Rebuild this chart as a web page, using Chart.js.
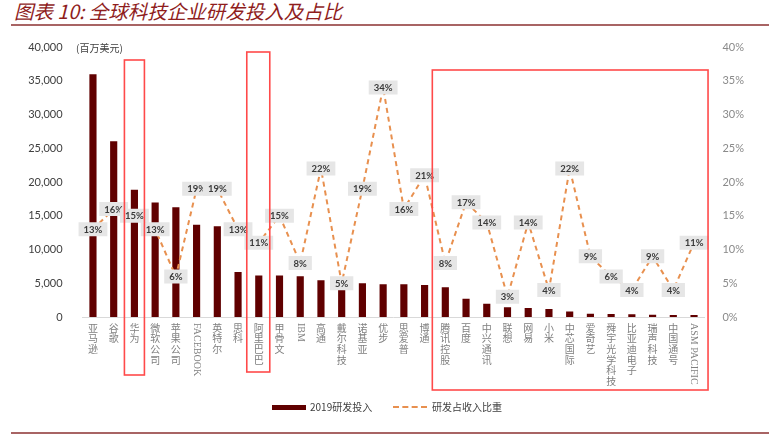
<!DOCTYPE html>
<html>
<head>
<meta charset="utf-8">
<script src="https://cdn.jsdelivr.net/npm/chart.js@4.4.0/dist/chart.umd.min.js"></script>
<style>
  body { margin: 0; background: #fff; font-family: "Noto Sans CJK SC", sans-serif; }
  #wrap { position: relative; width: 769px; height: 436px; overflow: hidden; }
  #title { position: absolute; left: 14px; top: -2px; font-size: 19.5px; font-style: italic; color: #8f1d1d; line-height: 26px; white-space: nowrap; }
  .rule { position: absolute; left: 11px; right: 0; height: 2px; background: #a86464; }
  canvas { position: absolute; left: 0; top: 0; }
  #unit { position: absolute; left: 76px; top: 40px; font-size: 10px; color: #404040; }
  .leg { position: absolute; font-size: 10px; color: #404040; line-height: 14px; }
</style>
</head>
<body>
<div id="wrap">
  <div id="title">图表 10: 全球科技企业研发投入及占比</div>
  <div class="rule" style="top:24px"></div>
  <canvas id="chart" width="769" height="436"></canvas>
  <div id="unit">(百万美元)</div>
  <div class="leg" style="left:272px;top:405px;width:34px;height:5px;background:#600000"></div>
  <div class="leg" style="left:310px;top:400px">2019研发投入</div>
  <div class="leg" style="left:393px;top:406px;width:34px;height:0;border-top:2px dashed #e8904f"></div>
  <div class="leg" style="left:432px;top:400px">研发占收入比重</div>
  <div class="rule" style="top:432px"></div>
</div>
<script>
// categories
const companies = [
  "亚马逊", "谷歌", "华为", "微软公司", "苹果公司", "FACEBOOK", "英特尔", "思科",
  "阿里巴巴", "甲骨文", "IBM", "高通", "戴尔科技", "诺基亚", "优步", "思爱普",
  "博通", "腾讯控股", "百度", "中兴通讯", "联想", "网易", "小米", "中芯国际",
  "爱奇艺", "舜宇光学科技", "比亚迪电子", "瑞声科技", "中国通号", "ASM PACIFIC"
];

// 2019 R&D spend, million USD
const rdSpend = [
  35900, 26000, 18800, 16900, 16200, 13600, 13400, 6600,
  6100, 6100, 6000, 5400, 4300, 4950, 4800, 4800,
  4700, 4350, 2650, 1900, 1400, 1300, 1150, 750,
  450, 400, 350, 300, 250, 250
];

// R&D as % of revenue
const rdRatio = [
  13, 16, 15, 13, 6, 19, 19, 13,
  11, 15, 8, 22, 5, 19, 34, 16,
  21, 8, 17, 14, 3, 14, 4, 22,
  9, 6, 4, 9, 4, 11
];

const spendTicks = { min: 0, max: 40000, step: 5000 };
const ratioTicks = { min: 0, max: 40, step: 5 };

// companies that get a red frame round them
const frames = [
  { from: 2, to: 2, padL: 10, padR: 10, top: 60, bottom: 375 },
  { from: 8, to: 8, padL: 12, padR: 11, top: 52, bottom: 372 },
  { from: 17, to: 29, padL: 13, padR: 14, top: 70, bottom: 390 }
];

const barColor = "#600000";
const lineColor = "#e8904f";

// percent labels in grey boxes on the line
const pointLabels = {
  id: "pointLabels",
  afterDatasetsDraw(chart) {
    const ctx = chart.ctx;
    const meta = chart.getDatasetMeta(0);
    ctx.save();
    ctx.font = "bold 9.5px Lato, sans-serif";
    ctx.textAlign = "center";
    ctx.textBaseline = "middle";
    meta.data.forEach((pt, i) => {
      const txt = rdRatio[i] + "%";
      const w = ctx.measureText(txt).width + 10;
      const h = 14;
      ctx.fillStyle = "#e6e6e6";
      ctx.fillRect(pt.x - w / 2, pt.y - h / 2, w, h);
      ctx.fillStyle = "#3a3a3a";
      ctx.fillText(txt, pt.x, pt.y + 0.5);
    });
    ctx.restore();
  }
};

// vertical category labels, CJK stacked, latin rotated
const xLabels = {
  id: "xLabels",
  afterDraw(chart) {
    const ctx = chart.ctx;
    const x = chart.scales.x;
    const top = chart.chartArea.bottom + 6;
    ctx.save();
    ctx.fillStyle = "#7f7f7f";
    companies.forEach((name, i) => {
      const px = x.getPixelForValue(i);
      if (/[A-Za-z]/.test(name)) {
        ctx.save();
        ctx.font = "10px 'Liberation Serif', serif";
        ctx.translate(px, top);
        ctx.rotate(Math.PI / 2);
        ctx.textAlign = "left";
        ctx.textBaseline = "middle";
        ctx.fillText(name, 0, 0);
        ctx.restore();
      } else {
        ctx.font = "10px 'Noto Sans CJK SC', sans-serif";
        ctx.textAlign = "center";
        ctx.textBaseline = "top";
        [...name].forEach((ch, k) => ctx.fillText(ch, px, top + k * 10.6));
      }
    });
    ctx.restore();
  }
};

const redFrames = {
  id: "redFrames",
  afterDraw(chart) {
    const ctx = chart.ctx;
    const x = chart.scales.x;
    ctx.save();
    ctx.strokeStyle = "#ff4a4a";
    ctx.lineWidth = 1.6;
    frames.forEach(f => {
      const l = x.getPixelForValue(f.from) - f.padL;
      const r = x.getPixelForValue(f.to) + f.padR;
      ctx.strokeRect(l, f.top, r - l, f.bottom - f.top);
    });
    ctx.restore();
  }
};

new Chart(document.getElementById("chart").getContext("2d"), {
  data: {
    labels: companies,
    datasets: [
      {
        type: "line",
        label: "研发占收入比重",
        data: rdRatio,
        yAxisID: "y1",
        borderColor: lineColor,
        borderWidth: 2,
        borderDash: [5, 4],
        pointRadius: 0,
        tension: 0,
        fill: false,
        order: 0
      },
      {
        type: "bar",
        label: "2019研发投入",
        data: rdSpend,
        yAxisID: "y",
        backgroundColor: barColor,
        barThickness: 6.5,
        order: 1
      }
    ]
  },
  options: {
    responsive: false,
    animation: false,
    layout: { padding: { top: 47, bottom: 111, left: 0, right: 0 } },
    plugins: { legend: { display: false }, tooltip: { enabled: false } },
    scales: {
      x: {
        offset: true,
        grid: { display: false },
        border: { display: true, color: "#d9d9d9", width: 1 },
        ticks: { display: false }
      },
      y: {
        position: "left",
        min: spendTicks.min,
        max: spendTicks.max,
        grid: { display: false },
        border: { display: false },
        ticks: {
          stepSize: spendTicks.step,
          padding: 12,
          color: "#404040",
          font: { size: 11, family: "Lato, sans-serif" },
          callback: v => v.toLocaleString("en-US")
        },
        afterFit(s) { s.width = 82.6; }
      },
      y1: {
        position: "right",
        min: ratioTicks.min,
        max: ratioTicks.max,
        grid: { display: false },
        border: { display: false },
        ticks: {
          stepSize: ratioTicks.step,
          padding: 10,
          color: "#8a8a8a",
          font: { size: 11, family: "Lato, sans-serif" },
          callback: v => v + "%"
        },
        afterFit(s) { s.width = 64.6; }
      }
    }
  },
  plugins: [pointLabels, xLabels, redFrames]
});
</script>
</body>
</html>
